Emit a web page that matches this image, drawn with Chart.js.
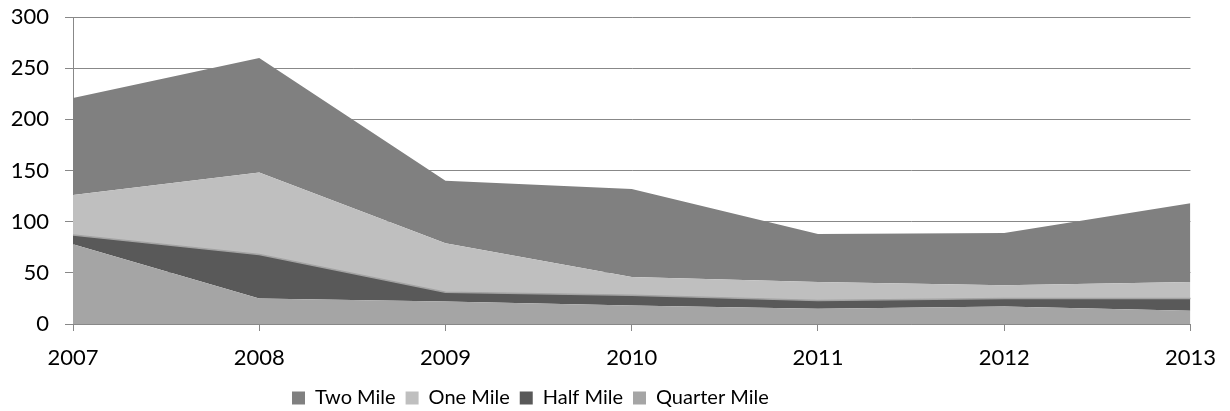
<!DOCTYPE html>
<html>
<head>
<meta charset="utf-8">
<script src="https://cdn.jsdelivr.net/npm/chart.js@4.4.1/dist/chart.umd.min.js"></script>
<style>
  html, body { margin: 0; padding: 0; background: #fff; }
</style>
</head>
<body>
<canvas id="distanceChart" width="1230" height="411"></canvas>
<script>
const years = ["2007", "2008", "2009", "2010", "2011", "2012", "2013"];

// per-distance counts, stacked bottom to top
const quarterMile = [78, 25, 22, 18, 15, 17, 13];
const halfMile = [9, 43, 9, 10, 8, 8, 12];
const oneMile = [39, 80, 48, 18, 18, 13, 16];
const twoMile = [95, 112, 61, 86, 47, 51, 77];

const yTicks = [0, 50, 100, 150, 200, 250, 300];

const axisGray = "#888888";
const fontFamily = "Lato, 'Open Sans', sans-serif";

function area(label, data, color, fill, border) {
  return {
    label: label,
    data: data,
    backgroundColor: color,
    borderColor: border || color,
    borderWidth: border ? 1.5 : 0,
    fill: fill,
    pointRadius: 0,
    tension: 0,
  };
}

// legend sits a bit left of the plot centre
const legendShift = {
  id: "legendShift",
  afterLayout(chart) {
    chart.legend.left = 282;
  },
};

const ctx = document.getElementById("distanceChart");
new Chart(ctx, {
  type: "line",
  data: {
    labels: years,
    datasets: [
      area("Quarter Mile", quarterMile, "#a5a5a5", "origin"),
      area("Half Mile", halfMile, "#595959", "-1", "#a3a3a3"),
      area("One Mile", oneMile, "#bfbfbf", "-1"),
      area("Two Mile", twoMile, "#808080", "-1"),
    ],
  },
  plugins: [legendShift],
  options: {
    responsive: false,
    devicePixelRatio: 1,
    animation: false,
    layout: {
      padding: { left: 0, right: 39, top: 4, bottom: -7 },
    },
    plugins: {
      tooltip: { enabled: false },
      legend: {
        position: "bottom",
        align: "start",
        reverse: true,
        labels: {
          boxWidth: 13,
          boxHeight: 13,
          padding: 10,
          color: "#000",
          font: { family: fontFamily, size: 20 },
          generateLabels: (chart) => {
            const items = Chart.defaults.plugins.legend.labels.generateLabels(chart);
            items.forEach((it) => {
              it.strokeStyle = it.fillStyle;
              it.lineWidth = 0;
            });
            return items;
          },
        },
      },
    },
    scales: {
      x: {
        offset: false,
        grid: {
          display: true,
          drawOnChartArea: false,
          drawTicks: true,
          tickLength: 7,
          color: axisGray,
        },
        border: { color: axisGray, width: 1 },
        ticks: {
          color: "#000",
          padding: 14,
          maxRotation: 0,
          font: { family: fontFamily, size: 22 },
        },
        afterFit: (scale) => {
          scale.height = 54;
        },
      },
      y: {
        stacked: true,
        min: 0,
        max: 300,
        afterBuildTicks: (scale) => {
          scale.ticks = yTicks.map((v) => ({ value: v }));
        },
        grid: {
          color: axisGray,
          tickLength: 8,
          drawTicks: true,
        },
        border: { color: axisGray, width: 1 },
        ticks: {
          color: "#000",
          padding: 16,
          font: { family: fontFamily, size: 22, lineHeight: 0.1 },
        },
        afterFit: (scale) => {
          scale.width = 73;
        },
      },
    },
  },
});
</script>
</body>
</html>
